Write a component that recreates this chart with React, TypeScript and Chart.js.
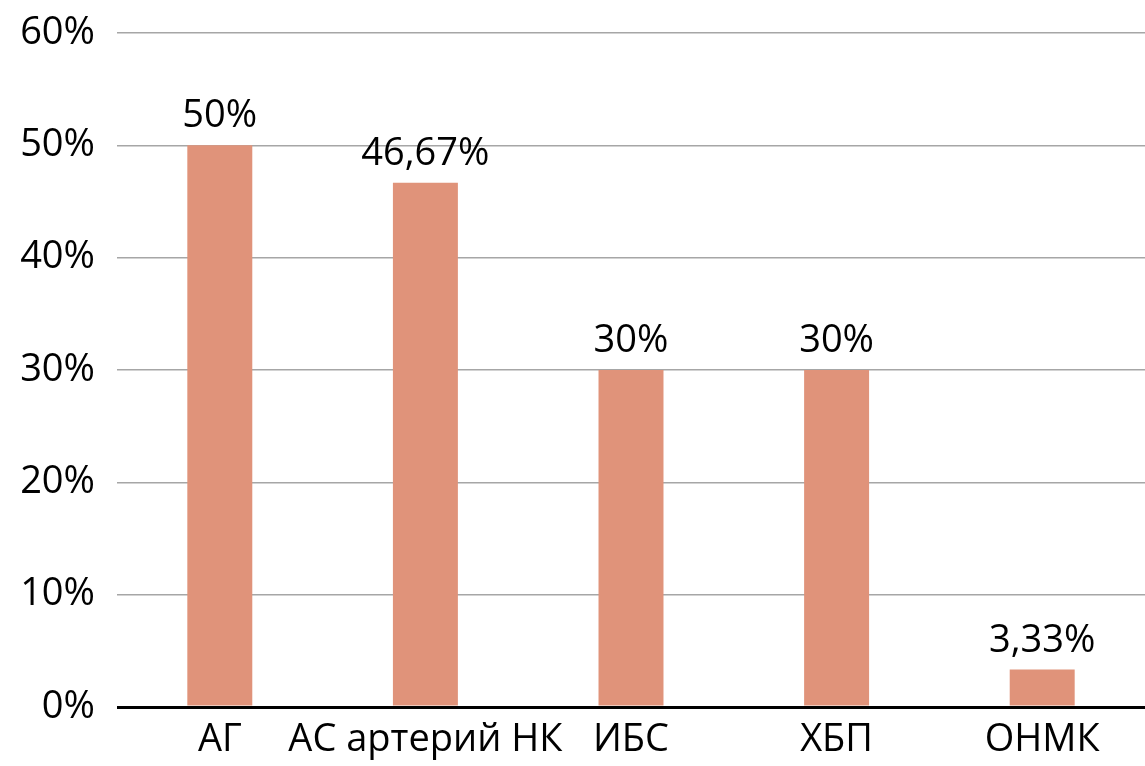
import React, { useEffect, useRef } from "react";
import { Chart, registerables } from "chart.js";

Chart.register(...registerables);

const categories = ["АГ", "АС артерий НК", "ИБС", "ХБП", "ОНМК"];
const values = [50, 46.67, 30, 30, 3.33];
const valueLabels = ["50%", "46,67%", "30%", "30%", "3,33%"];
const yTicks = [0, 10, 20, 30, 40, 50, 60];

const FONT = "'Open Sans', 'Noto Sans', sans-serif";
const FSIZE = 38;

const valueLabelPlugin = {
  id: "valueLabels",
  afterDatasetsDraw(chart: any) {
    const ctx = chart.ctx;
    const meta = chart.getDatasetMeta(0);
    ctx.save();
    ctx.font = `${FSIZE}px ${FONT}`;
    ctx.fillStyle = "#000";
    ctx.textAlign = "center";
    ctx.textBaseline = "alphabetic";
    meta.data.forEach((bar: any, i: number) => {
      ctx.fillText(valueLabels[i], bar.x, bar.y - 18);
    });
    ctx.restore();
  },
};

export default function App() {
  const ref = useRef<HTMLCanvasElement | null>(null);
  useEffect(() => {
    document.body.style.margin = "0";
    const chart = new Chart(ref.current as HTMLCanvasElement, {
      type: "bar",
      data: {
        labels: categories,
        datasets: [
          {
            data: values,
            backgroundColor: "#E0937A",
            barPercentage: 0.316,
            categoryPercentage: 1,
          },
        ],
      },
      options: {
        animation: false,
        responsive: false,
        maintainAspectRatio: false,
        layout: { padding: { top: 33, right: 0, left: 0, bottom: 0 } },
        plugins: {
          legend: { display: false },
          tooltip: { enabled: false },
        },
        scales: {
          x: {
            grid: { display: false },
            border: { display: false },
            ticks: {
              color: "#000",
              font: { family: FONT, size: FSIZE },
              padding: 2,
              maxRotation: 0,
              autoSkip: false,
            },
            afterFit: (s: any) => {
              s.height = 59;
              s.paddingLeft = 0;
              s.paddingRight = 0;
            },
          },
          y: {
            min: 0,
            max: 60,
            afterBuildTicks: (s: any) => {
              s.ticks = yTicks.map((v) => ({ value: v }));
            },
            grid: {
              drawTicks: false,
              color: (c: any) => (c.tick && c.tick.value === 0 ? "#000" : "#a6a6a6"),
              lineWidth: (c: any) => (c.tick && c.tick.value === 0 ? 3 : 1.5),
            },
            border: { display: false },
            ticks: {
              color: "#000",
              font: { family: FONT, size: FSIZE },
              padding: 22,
              callback: (v: any) => `${v}%`,
            },
            afterFit: (s: any) => {
              s.width = 117;
              s.paddingTop = 0;
              s.paddingBottom = 0;
            },
          },
        },
      },
      plugins: [valueLabelPlugin],
    });
    return () => chart.destroy();
  }, []);
  return <canvas ref={ref} width={1145} height={766} style={{ display: "block" }} />;
}
